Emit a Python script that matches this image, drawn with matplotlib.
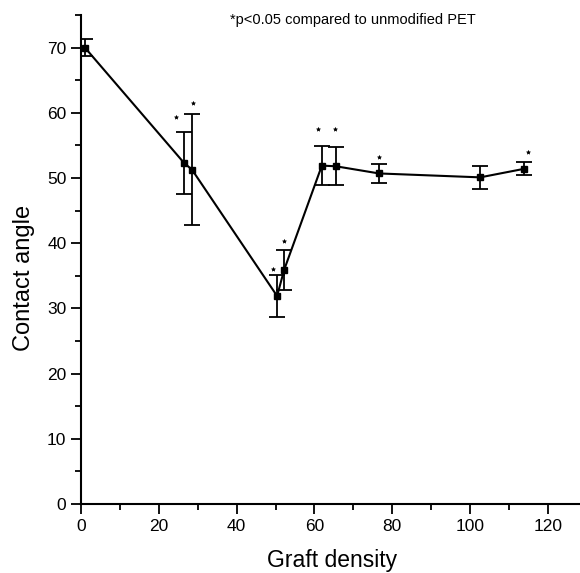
import matplotlib
matplotlib.use("Agg")
import matplotlib.pyplot as plt
import numpy as np

plt.rcParams['font.family'] = ['Liberation Sans', 'DejaVu Sans']

# graft density vs contact angle
density = [1, 26.5, 28.5, 50.4, 52.2, 61.9, 65.5, 76.6, 102.6, 113.8]
angle = [70.0, 52.3, 51.3, 31.9, 35.9, 51.9, 51.8, 50.7, 50.1, 51.4]
err = [1.3, 4.8, 8.5, 3.2, 3.1, 3.0, 2.9, 1.5, 1.8, 1.0]
# significance stars (x, y)
star_x = [24.5, 28.8, 49.4, 52.2, 61.0, 65.2, 76.6, 114.8]
star_y = [59.4, 61.5, 36.1, 40.4, 57.5, 57.5, 53.2, 54.0]

fig = plt.figure(figsize=(5.8, 5.73), dpi=100)
ax = fig.add_axes([0.1397, 0.1204, 0.8586, 0.8534])

ax.errorbar(density, angle, yerr=err, color='black', marker='s', markersize=4,
            linewidth=1.5, elinewidth=1.3, capsize=6, capthick=1.3)
ax.scatter(star_x, star_y, marker=(5, 1), s=14, color='black', linewidths=0)

# note at top, placed in figure pixels (from the top-left)
ax.text(353 / 580, 1 - 20 / 573, '*p<0.05 compared to unmodified PET',
        transform=fig.transFigure, ha='center', va='center', fontsize=10.5)

ax.set_xlim(0, 128)
ax.set_ylim(0, 75)
ax.set_xticks(np.arange(0, 121, 20))
ax.set_xticks(np.arange(10, 121, 20), minor=True)
ax.set_yticks(np.arange(0, 71, 10))
ax.set_yticks(np.arange(5, 76, 10), minor=True)
ax.spines['top'].set_visible(False)
ax.spines['right'].set_visible(False)
ax.spines['left'].set_linewidth(1.5)
ax.spines['bottom'].set_linewidth(1.5)
ax.tick_params(which='major', direction='out', length=7, width=1.3, labelsize=12.5)
ax.tick_params(which='minor', direction='out', length=4, width=1.3)

ax.set_xlabel('Graft density', fontsize=16.5)
ax.set_ylabel('Contact angle', fontsize=17)
# put axis labels where they sit in the original
ax.xaxis.set_label_coords((332 - 81) / 498, -(549 - 504) / 489)
ax.yaxis.set_label_coords(-(81 - 35) / 498, (504 - 278) / 489)

fig.savefig('out.png', dpi=100)
